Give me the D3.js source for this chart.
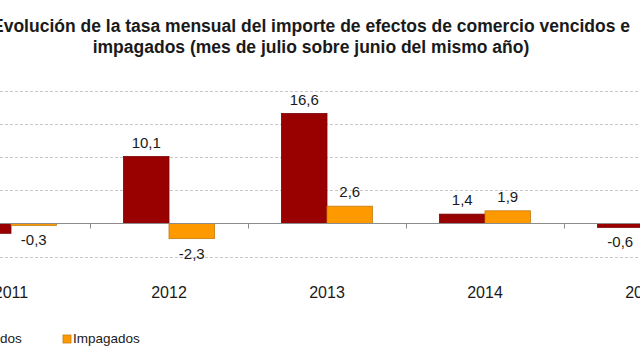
<!DOCTYPE html>
<html>
<head>
<meta charset="utf-8">
<script src="https://cdn.jsdelivr.net/npm/d3@7"></script>
<style>
  html, body { margin: 0; padding: 0; background: #fff; }
  svg { display: block; font-family: "Liberation Sans", Arial, sans-serif; }
</style>
</head>
<body>
<svg id="chart" width="640" height="360"></svg>
<script>
const titleLines = [
  "Evolución de la tasa mensual del importe de efectos de comercio vencidos e",
  "impagados (mes de julio sobre junio del mismo año)"
];
const years = ["2011", "2012", "2013", "2014", "2015"];
const seriesNames = ["Vencidos", "Impagados"];
const vencidos = [-1.5, 10.1, 16.6, 1.4, -0.6];
const impagados = [-0.3, -2.3, 2.6, 1.9, null];
const yTicks = [-5, 0, 5, 10, 15, 20];
const colors = { Vencidos: "#990000", Impagados: "#FF9900" };
const strokes = { Vencidos: "#7a0000", Impagados: "#c47a10" };

const svg = d3.select("#chart");
const fmt = v => d3.format(".1f")(v).replace(".", ",").replace("−", "-");

// plot region (the original chart is wider than the visible window)
const x0 = d3.scaleBand().domain(years).range([-68, 722]).padding(0);
const x1 = d3.scaleBand().domain(seriesNames).range([0, x0.bandwidth()])
  .paddingInner(0).paddingOuter(0.736);
const y = d3.scaleLinear().domain([-5, 20]).range([256.5, 91]);

// gridlines
svg.append("g").selectAll("line").data(yTicks.filter(t => t !== 0)).join("line")
  .attr("x1", 0).attr("x2", 640)
  .attr("y1", d => Math.round(y(d)) + 0.5).attr("y2", d => Math.round(y(d)) + 0.5)
  .attr("stroke", "#c8c8c8").attr("stroke-dasharray", "3,2").attr("stroke-width", 1);

// title
svg.append("g").selectAll("text").data(titleLines).join("text")
  .attr("x", 311).attr("y", (d, i) => 31.5 + i * 21)
  .attr("text-anchor", "middle").attr("font-size", 17.5).attr("font-weight", "bold")
  .attr("fill", "#1a1a1a").text(d => d);

// data
const rows = years.map((yr, i) => ({ year: yr, Vencidos: vencidos[i], Impagados: impagados[i] }));
const flat = [];
rows.forEach(r => seriesNames.forEach(s => { if (r[s] !== null) flat.push({ year: r.year, key: s, value: r[s] }); }));
const cx = d => x0(d.year) + x1(d.key) + x1.bandwidth() / 2;

// bars
svg.append("g").selectAll("rect").data(flat).join("rect")
  .attr("x", d => x0(d.year) + x1(d.key))
  .attr("width", x1.bandwidth())
  .attr("y", d => y(Math.max(0, d.value)))
  .attr("height", d => Math.abs(y(d.value) - y(0)))
  .attr("fill", d => colors[d.key])
  .attr("stroke", d => strokes[d.key]).attr("stroke-width", 0.8);

// zero axis line
const zy = Math.round(y(0)) + 0.5;
svg.append("line").attr("x1", 0).attr("x2", 640).attr("y1", zy).attr("y2", zy)
  .attr("stroke", "#8c8c8c").attr("stroke-width", 1);

// category ticks at band boundaries
svg.append("g").selectAll("line").data(years.slice(1)).join("line")
  .attr("x1", d => Math.round(x0(d)) + 0.5).attr("x2", d => Math.round(x0(d)) + 0.5)
  .attr("y1", zy).attr("y2", zy + 5)
  .attr("stroke", "#8c8c8c");

// value labels (only those whose bar lies in the visible window)
svg.append("g").selectAll("text").data(flat.filter(d => cx(d) > 0 && cx(d) < 640)).join("text")
  .attr("x", cx)
  .attr("y", d => d.value >= 0 ? y(d.value) - 9 : y(d.value) + 20)
  .attr("text-anchor", "middle").attr("font-size", 15).attr("fill", "#1a1a1a")
  .text(d => fmt(d.value));

// year labels
svg.append("g").selectAll("text").data(years).join("text")
  .attr("x", d => x0(d) + x0.bandwidth() / 2).attr("y", 298)
  .attr("text-anchor", "middle").attr("font-size", 16).attr("fill", "#1a1a1a")
  .text(d => d);

// legend
const legendX = [-43, 63];
const lg = svg.append("g").selectAll("g").data(seriesNames).join("g")
  .attr("transform", (d, i) => `translate(${legendX[i]},335)`);
lg.append("rect").attr("width", 8).attr("height", 8)
  .attr("fill", d => colors[d]).attr("stroke", d => strokes[d]).attr("stroke-width", 0.8);
lg.append("text").attr("x", 10).attr("y", 8).attr("font-size", 13.5).attr("fill", "#1a1a1a")
  .text(d => d);
</script>
</body>
</html>
